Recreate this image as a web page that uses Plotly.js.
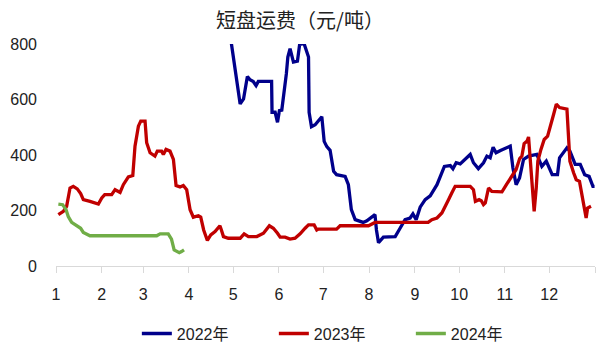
<!DOCTYPE html>
<html><head><meta charset="utf-8">
<script src="https://cdn.plot.ly/plotly-3.0.1.min.js"></script>
<style>html,body{margin:0;padding:0;background:#fff}#chart{width:600px;height:344px}</style>
</head><body><div id="chart"></div>
<script>
// x = day of year (0 = 1 Jan)
const monthStarts = [0,31,59,90,120,151,181,212,243,273,304,334,365];
const monthLabels = ['1','2','3','4','5','6','7','8','9','10','11','12',''];

const days2022 = [118,124.7,127,129.6,131.4,133.6,135.5,137,146,146.3,148.4,150,151.3,152.9,156,157,158.5,160.8,163.5,165,168,171,171.4,173,175.5,180,181.6,183.4,185.6,188,190,195.8,198,200,202.6,208,210.5,212.7,216,217,218.4,221.7,225,229.7,233,236.4,239.8,241.7,243.9,246.6,250,253.4,258,263,267,268.8,271,273.7,280.5,282.7,286,289.5,291.8,294,296,298,301,303,305,307.6,309.4,311.6,313.9,316.6,320,325.6,329,332,336,339.6,341,343.7,346,348,351.6,355,358,361,363.6,364.7];
const vals2022 = [830,584,602,683,671,665,650,665,665,554,554,518,560,562,693,753,783,735,738,799,801,753,554,502,509,538,449,430,417,341,329,323,293,203,167,157,163,173,185,130,84,104,106,106,136,167,173,188,167,212,239,253,293,359,362,350,372,368,402,372,351,372,396,390,428,408,416,420,426,432,354,293,317,384,396,402,359,378,329,329,390,408,426,414,366,366,329,323,287,287];

const days2023 = [1.6,5,7.2,9.5,11.7,14.4,16.7,18.5,23,28.7,31,33,37.7,40,43.4,45.6,49,52,53.5,55.8,57.4,60.3,61.4,63.7,67,68.6,71.5,72.7,74.5,77.2,79.5,81.3,84,86.2,88.5,90.8,93,96.4,98,100,102.5,104.8,107.7,111,112,113.4,116.7,124.7,127.4,130.3,136,140.5,144.5,147.2,150,151.8,155.1,158.5,161.9,165.3,168.7,171,174.8,176.6,177.7,190,192.4,211.6,216,252,254.5,258,261.3,263.5,265.8,268,270.3,280.5,282.7,284,286.5,288,289.5,290.7,292.9,295.1,298.5,302,305,308.7,311.6,314,315.5,317,319,320,321.1,322.3,323.8,325.2,326.3,328.4,330.6,332.9,335,337,338.8,341,346,347,348,350.5,352.3,354.5,356.8,359,360,362.3];
const vals2023 = [185,197,215,281,287,278,261,239,233,223,245,257,257,275,265,293,321,326,432,504,522,522,444,408,396,414,414,402,420,414,384,290,285,290,275,203,176,181,176,130,92,112,124,145,130,106,100,100,116,106,106,118,145,136,118,104,104,97,100,116,136,148,148,130,133,133,145,145,157,157,167,173,191,212,239,263,287,287,275,233,239,235,221,227,281,269,267,267,293,323,348,387,396,441,450,465,378,281,197,281,378,420,456,468,504,547,583,571,565,474,378,336,311,305,245,173,209,215];

const days2024 = [1.6,4.5,6.8,8.3,10.6,14,16.7,18.5,23,68.2,70.5,76,78.2,80,83.5,85,86.7];
const vals2024 = [223,221,203,178,157,145,136,121,109,109,116,116,97,58,48,52,58];

const seriesNames = ['2022年','2023年','2024年'];
const seriesColors = ['#00008B','#C00000','#70AD47'];

const traces = [[days2022,vals2022],[days2023,vals2023],[days2024,vals2024]].map((d,i)=>({
  x:d[0], y:d[1], type:'scatter', mode:'lines', name:seriesNames[i],
  line:{color:seriesColors[i], width:3.3}
}));

const layout = {
  width:600, height:344,
  margin:{l:56, r:5, t:44, b:78, autoexpand:false},
  paper_bgcolor:'#fff', plot_bgcolor:'#fff',
  font:{family:'Liberation Sans, Arial, sans-serif', size:16, color:'#222'},
  title:{text:'短盘运费（元/吨）', x:0.5, xanchor:'center', y:0.94, yanchor:'middle',
    font:{family:'Noto Sans CJK SC, sans-serif', size:20, color:'#222'}},
  xaxis:{range:[0,365], tickvals:monthStarts, ticktext:monthLabels, showgrid:false, zeroline:false,
    showline:true, linecolor:'#D9D9D9', linewidth:1, ticks:'outside', ticklen:6, tickcolor:'#D9D9D9',
    ticklabelstandoff:8, tickfont:{size:16}},
  yaxis:{range:[0,800], tickvals:[0,200,400,600,800], showgrid:false, zeroline:false, showline:false,
    ticks:'', ticklabelstandoff:18, tickfont:{size:16}},
  showlegend:true,
  legend:{orientation:'h', x:0.15, xanchor:'left', y:-0.228, yanchor:'top', entrywidth:92,
    font:{family:'Liberation Sans, Noto Sans CJK SC, sans-serif', size:16}, bgcolor:'rgba(0,0,0,0)'}
};
Plotly.newPlot('chart', traces, layout, {displayModeBar:false, staticPlot:true});
</script></body></html>
